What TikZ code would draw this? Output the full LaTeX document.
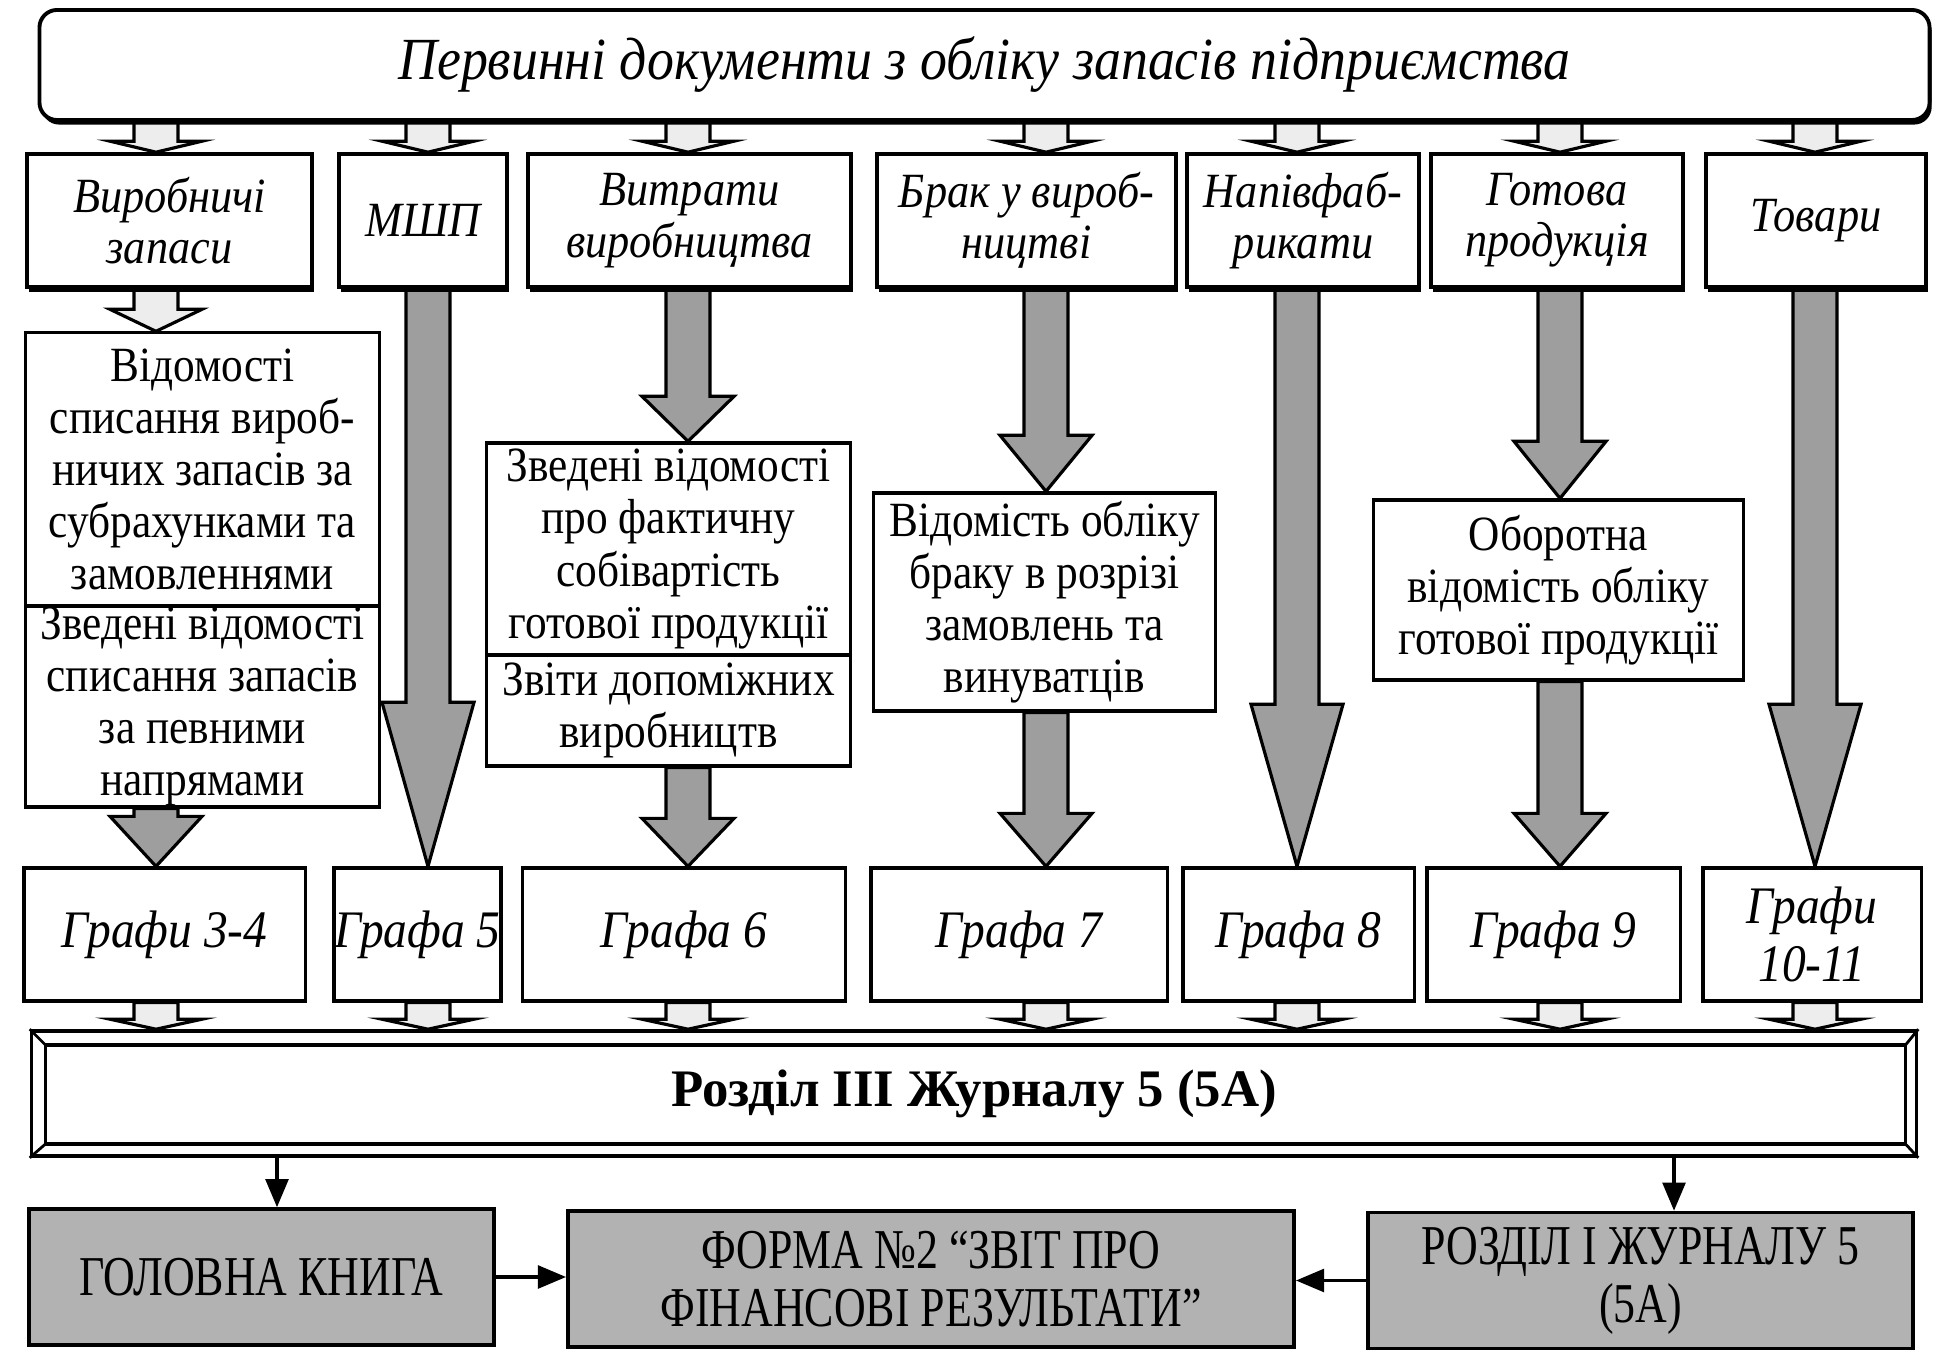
\documentclass[tikz,border=0pt]{standalone}
\usepackage{fontspec}
\setmainfont{Liberation Serif}
\newfontfamily\bodyfont{Liberation Serif}[FakeStretch=0.88]
\newfontfamily\slantfont{Liberation Serif}[FakeStretch=0.9]
\newfontfamily\capsfont{Liberation Serif}[FakeStretch=0.78]
\usetikzlibrary{arrows.meta,calc,shadows,backgrounds}
\tikzset{
  shadowed/.style={general shadow={fill=black, shadow xshift=0.6pt, shadow yshift=-1.3pt}},
  topbox/.style={draw, line width=1.1pt, rounded corners=5pt, fill=white, shadowed,
    font={\slantfont\itshape\fontsize{17}{18}\selectfont}},
  catbox/.style={draw, line width=1pt, fill=white, shadowed, minimum height=1.33cm,
    inner sep=0pt, align=center, font={\slantfont\itshape\fontsize{14}{14.6}\selectfont}},
  docbox/.style={draw, line width=0.9pt, fill=white, inner sep=0pt, align=center,
    font={\bodyfont\fontsize{14}{14.8}\selectfont}},
  colbox/.style={draw, line width=0.9pt, fill=white, minimum height=1.33cm,
    inner sep=0pt, align=center, font={\slantfont\itshape\fontsize{15}{16.5}\selectfont}},
  endbox/.style={draw, line width=1pt, fill=black!30, minimum height=1.36cm,
    inner sep=0pt, align=center, font={\capsfont\fontsize{16}{16.5}\selectfont}},
  barframe/.style={draw, line width=1pt, fill=white, font=\bfseries\fontsize{15}{17}\selectfont},
  fatfill/.style={draw=black, line width=0.9pt, fill=black!38},
  stubfill/.style={draw=black, line width=0.9pt, fill=black!7},
  thinarrow/.style={line width=0.9pt, -{Triangle[length=8pt,width=6.5pt]}},
}
% block arrow: source, target, head length
\newcommand{\blockarrow}[4][fatfill]{%
  \filldraw[#1] let \p1=(#2), \p2=(#3) in
    (\x1-0.22cm,\y1) -- (\x1-0.22cm,\y2+#4) -- (\x1-0.46cm,\y2+#4) -- (\x1,\y2)
    -- (\x1+0.46cm,\y2+#4) -- (\x1+0.22cm,\y2+#4) -- (\x1+0.22cm,\y1) -- cycle;}

\begin{document}
\begin{tikzpicture}[x=0.01cm,y=-0.01cm]
\useasboundingbox (0,0) rectangle (1946,1371);

% columns
\coordinate (c1) at (156,0);
\coordinate (c2) at (428,0);
\coordinate (c3) at (688,0);
\coordinate (c4) at (1046,0);
\coordinate (c5) at (1297,0);
\coordinate (c6) at (1560,0);
\coordinate (c7) at (1815,0);
\coordinate (d1) at (277,0);
\coordinate (d2) at (1674,0);

% top
\node[topbox, minimum width=18.89cm, minimum height=1.10cm] (top) at (984.5,65)
  {Первинні документи з обліку запасів підприємства};

% categories
\node[catbox, minimum width=2.85cm] (cat1) at (169.5,220.5) {Виробничі\\запаси};
\node[catbox, minimum width=1.68cm] (cat2) at (423,220.5) {МШП};
\node[catbox, minimum width=3.23cm] (cat3) at (689.5,220.5) {Витрати\\виробництва};
\node[catbox, minimum width=2.99cm] (cat4) at (1026.5,220.5) {Брак у вироб-\\ництві};
\node[catbox, minimum width=2.32cm] (cat5) at (1303,220.5) {Напівфаб-\\рикати};
\node[catbox, minimum width=2.52cm] (cat6) at (1557,220.5) {Готова\\продукція};
\node[catbox, minimum width=2.20cm] (cat7) at (1816,220.5) {Товари};

% registers
\node[docbox, minimum width=3.53cm, minimum height=2.73cm] (ved1) at (202.5,469.5)
  {Відомості\\списання вироб-\\ничих запасів за\\субрахунками та\\замовленнями};
\node[docbox, minimum width=3.53cm, minimum height=2.01cm] (ved2) at (202.5,706.5)
  {Зведені відомості\\списання запасів\\за певними\\напрямами};
\node[docbox, minimum width=3.63cm, minimum height=2.12cm] (zv1) at (668.5,549)
  {Зведені відомості\\про фактичну\\собівартість\\готової продукції};
\node[docbox, minimum width=3.63cm, minimum height=1.11cm] (zv2) at (668.5,710.5)
  {Звіти допоміжних\\виробництв};
\node[docbox, minimum width=3.41cm, minimum height=2.18cm] (vb) at (1044.5,602)
  {Відомість обліку\\браку в розрізі\\замовлень та\\винуватців};
\node[docbox, minimum width=3.69cm, minimum height=1.80cm] (ob) at (1558.5,590)
  {Оборотна\\відомість обліку\\готової продукції};

% columns of the journal
\node[colbox, minimum width=2.81cm] (g1) at (164.5,934.5) {Графи 3-4};
\node[colbox, minimum width=1.67cm] (g2) at (417.5,934.5) {Графа 5};
\node[colbox, minimum width=3.22cm] (g3) at (684,934.5) {Графа 6};
\node[colbox, minimum width=2.96cm] (g4) at (1019,934.5) {Графа 7};
\node[colbox, minimum width=2.31cm] (g5) at (1298.5,934.5) {Графа 8};
\node[colbox, minimum width=2.53cm] (g6) at (1553.5,934.5) {Графа 9};
\node[colbox, minimum width=2.18cm] (g7) at (1812,934.5) {Графи\\10-11};

% journal bar
\node[barframe, minimum width=18.84cm, minimum height=1.25cm] (bar) at (974,1093.5)
  {Розділ III Журналу 5 (5А)};
\draw[line width=1pt] ($(bar.north west)+(16,16)$) rectangle ($(bar.south east)+(-13,-14)$);
\draw[line width=0.8pt] (bar.north west) -- ++(16,16);
\draw[line width=0.8pt] (bar.south west) -- ++(16,-14);
\draw[line width=0.8pt] (bar.north east) -- ++(-13,16);
\draw[line width=0.8pt] (bar.south east) -- ++(-13,-14);

% results
\node[endbox, minimum width=4.65cm] (gk) at (261.5,1277) {ГОЛОВНА КНИГА};
\node[endbox, minimum width=7.26cm] (f2) at (931,1279)
  {ФОРМА №2 “ЗВІТ ПРО\\ФІНАНСОВІ РЕЗУЛЬТАТИ”};
\node[endbox, minimum width=5.45cm] (r1) at (1640.5,1280.5) {РОЗДІЛ I ЖУРНАЛУ 5\\(5А)};

\begin{scope}[on background layer]
% top -> categories
\blockarrow[stubfill]{top.south -| c1}{cat1.north -| c1}{0.11cm}
\blockarrow[stubfill]{top.south -| c2}{cat2.north -| c2}{0.11cm}
\blockarrow[stubfill]{top.south -| c3}{cat3.north -| c3}{0.11cm}
\blockarrow[stubfill]{top.south -| c4}{cat4.north -| c4}{0.11cm}
\blockarrow[stubfill]{top.south -| c5}{cat5.north -| c5}{0.11cm}
\blockarrow[stubfill]{top.south -| c6}{cat6.north -| c6}{0.11cm}
\blockarrow[stubfill]{top.south -| c7}{cat7.north -| c7}{0.11cm}
% categories -> registers -> columns
\blockarrow[stubfill]{cat1.south -| c1}{ved1.north -| c1}{0.22cm}
\blockarrow{ved2.south -| c1}{g1.north -| c1}{0.5cm}
\blockarrow{cat2.south -| c2}{g2.north -| c2}{1.64cm}
\blockarrow{cat3.south -| c3}{zv1.north -| c3}{0.45cm}
\blockarrow{zv2.south -| c3}{g3.north -| c3}{0.48cm}
\blockarrow{cat4.south -| c4}{vb.north -| c4}{0.56cm}
\blockarrow{vb.south -| c4}{g4.north -| c4}{0.53cm}
\blockarrow{cat5.south -| c5}{g5.north -| c5}{1.62cm}
\blockarrow{cat6.south -| c6}{ob.north -| c6}{0.57cm}
\blockarrow{ob.south -| c6}{g6.north -| c6}{0.53cm}
\blockarrow{cat7.south -| c7}{g7.north -| c7}{1.62cm}
% columns -> journal bar
\blockarrow[stubfill]{g1.south -| c1}{bar.north -| c1}{0.1cm}
\blockarrow[stubfill]{g2.south -| c2}{bar.north -| c2}{0.1cm}
\blockarrow[stubfill]{g3.south -| c3}{bar.north -| c3}{0.1cm}
\blockarrow[stubfill]{g4.south -| c4}{bar.north -| c4}{0.1cm}
\blockarrow[stubfill]{g5.south -| c5}{bar.north -| c5}{0.1cm}
\blockarrow[stubfill]{g6.south -| c6}{bar.north -| c6}{0.1cm}
\blockarrow[stubfill]{g7.south -| c7}{bar.north -| c7}{0.1cm}
\end{scope}

% bar -> results
\draw[thinarrow] (bar.south -| d1) -- (gk.north -| d1);
\draw[thinarrow] (bar.south -| d2) -- (r1.north -| d2);
\draw[thinarrow] (gk.east) -- (gk.east -| f2.west);
\draw[thinarrow] (r1.west) -- (r1.west -| f2.east);
\end{tikzpicture}
\end{document}
